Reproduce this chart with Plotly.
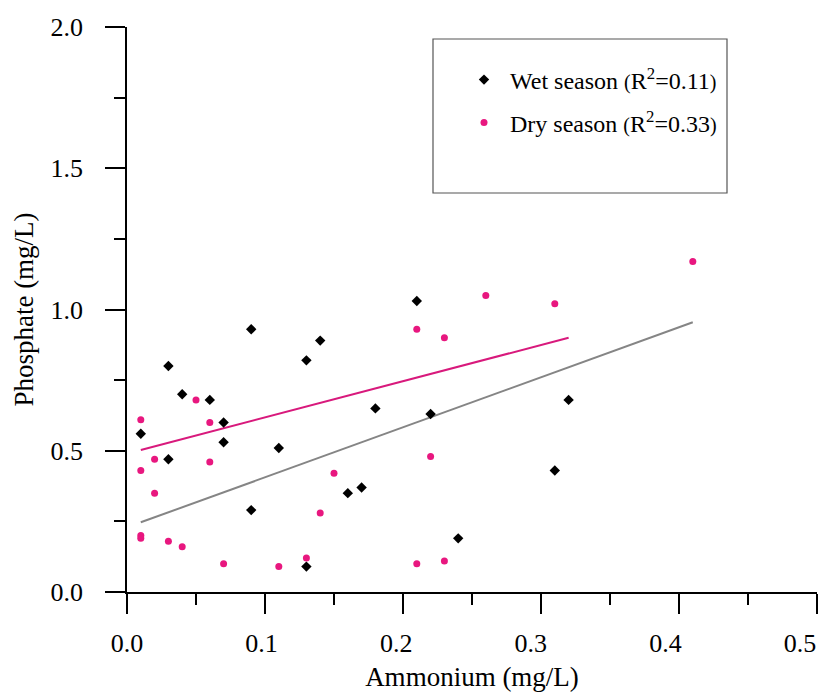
import plotly.graph_objects as go
import numpy as np

# Wet season data (Ammonium mg/L, Phosphate mg/L)
wet_x = [0.01, 0.03, 0.03, 0.04, 0.06, 0.07, 0.07, 0.09, 0.09, 0.11, 0.13,
         0.13, 0.14, 0.16, 0.17, 0.18, 0.21, 0.22, 0.24, 0.31, 0.32]
wet_y = [0.56, 0.47, 0.80, 0.70, 0.68, 0.60, 0.53, 0.93, 0.29, 0.51, 0.82,
         0.09, 0.89, 0.35, 0.37, 0.65, 1.03, 0.63, 0.19, 0.43, 0.68]

# Dry season data
dry_x = [0.01, 0.01, 0.01, 0.01, 0.02, 0.02, 0.03, 0.04, 0.05, 0.06, 0.06, 0.07,
         0.11, 0.13, 0.14, 0.15, 0.21, 0.21, 0.22, 0.23, 0.23, 0.26, 0.31, 0.41]
dry_y = [0.61, 0.43, 0.20, 0.19, 0.47, 0.35, 0.18, 0.16, 0.68, 0.60, 0.46, 0.10,
         0.09, 0.12, 0.28, 0.42, 0.93, 0.10, 0.48, 0.90, 0.11, 1.05, 1.02, 1.17]

# Trend lines as drawn in the reference (x-extent, intercept, slope)
pink_fit_x = [0.01, 0.32]
pink_intercept, pink_slope = 0.490, 1.281
gray_fit_x = [0.01, 0.41]
gray_intercept, gray_slope = 0.229, 1.770

x_ticks = [0.0, 0.1, 0.2, 0.3, 0.4, 0.5]
y_ticks = [0.0, 0.5, 1.0, 1.5, 2.0]

PINK = "#E8177F"
FONT = "Liberation Serif, Times New Roman, serif"

fig = go.Figure()

pink_fit_y = [pink_intercept + pink_slope * v for v in pink_fit_x]
gray_fit_y = [gray_intercept + gray_slope * v for v in gray_fit_x]

fig.add_trace(go.Scatter(x=gray_fit_x, y=gray_fit_y, mode="lines",
                         line=dict(color="#858585", width=2), showlegend=False,
                         hoverinfo="skip"))
fig.add_trace(go.Scatter(x=pink_fit_x, y=pink_fit_y, mode="lines",
                         line=dict(color="#D8197C", width=2), showlegend=False,
                         hoverinfo="skip"))

small = '<span style="font-size:20px">'
fig.add_trace(go.Scatter(
    x=wet_x, y=wet_y, mode="markers",
    marker=dict(symbol="diamond", size=8, color="black"),
    name="&nbsp;Wet season " + small + "(</span>R<sup>2</sup>=0.11" + small + ")</span>",
    legend="legend"))
fig.add_trace(go.Scatter(
    x=dry_x, y=dry_y, mode="markers",
    marker=dict(symbol="circle", size=7, color=PINK),
    name="&nbsp;Dry season " + small + "(</span>R<sup>2</sup>=0.33" + small + ")</span>",
    legend="legend2"))

# invisible carrier for the label axis (x tick labels are set slightly tighter than the ticks)
fig.add_trace(go.Scatter(x=x_ticks, y=[None] * len(x_ticks), xaxis="x2", yaxis="y",
                         mode="markers", showlegend=False, hoverinfo="skip"))

L, R, T, B = 127, 16, 27, 100
W, H = 833, 692
pw, ph = W - L - R, H - T - B

def px_x(p):
    return (p - L) / pw

def px_y(p):
    return (H - B - p) / ph

legend_common = dict(font=dict(family=FONT, size=24, color="black"),
                     bgcolor="rgba(0,0,0,0)", borderwidth=0,
                     xanchor="left", yanchor="middle")

# label axis: 0.0 label at the axis origin, 0.5 label centred at 800 px
lab_scale = (800 - L) / 0.5
lab_end = pw / lab_scale

fig.update_layout(
    width=W, height=H,
    margin=dict(l=L, r=R, t=T, b=B, autoexpand=False),
    paper_bgcolor="white", plot_bgcolor="white",
    font=dict(family=FONT, color="black"),
    legend=dict(x=px_x(464), y=px_y(80), **legend_common),
    legend2=dict(x=px_x(464), y=px_y(123), **legend_common),
    shapes=[dict(type="rect", xref="paper", yref="paper",
                 x0=px_x(433), x1=px_x(727), y0=px_y(193), y1=px_y(39),
                 line=dict(color="#555555", width=1.2), fillcolor="rgba(0,0,0,0)")],
)

axis_common = dict(showgrid=False, zeroline=False, showline=True,
                   linecolor="black", linewidth=1.5,
                   ticks="outside", ticklen=20, tickwidth=1.5, tickcolor="black",
                   tickformat=".1f", automargin=False, ticklabeloverflow="allow",
                   tickfont=dict(family=FONT, size=26, color="black"))

fig.update_xaxes(range=[0, 0.5], tickmode="array", tickvals=x_ticks,
                 minor=dict(dtick=0.05, ticks="outside", ticklen=11, tickwidth=1.5,
                            tickcolor="black"),
                 showticklabels=False,
                 **axis_common)
fig.update_layout(xaxis2=dict(
    overlaying="x", anchor="y", side="bottom",
    range=[0, lab_end], tickmode="array", tickvals=x_ticks,
    showgrid=False, zeroline=False, showline=False,
    ticks="outside", ticklen=20, tickcolor="rgba(0,0,0,0)",
    tickformat=".1f", automargin=False, ticklabeloverflow="allow",
    ticklabelstandoff=8,
    tickfont=dict(family=FONT, size=26, color="black"),
    title=dict(text="Ammonium (mg/L)", font=dict(family=FONT, size=27), standoff=13),
))
fig.update_yaxes(range=[0, 2.0], tickmode="array", tickvals=y_ticks,
                 minor=dict(dtick=0.25, ticks="outside", ticklen=11, tickwidth=1.5,
                            tickcolor="black"),
                 title=dict(text="Phosphate (mg/L)", font=dict(family=FONT, size=27),
                            standoff=9),
                 ticklabelstandoff=17,
                 **axis_common)

fig.write_html("out.html",
               config={"displayModeBar": False},
               post_script="document.body.style.margin='0';document.body.style.overflow='hidden';")
